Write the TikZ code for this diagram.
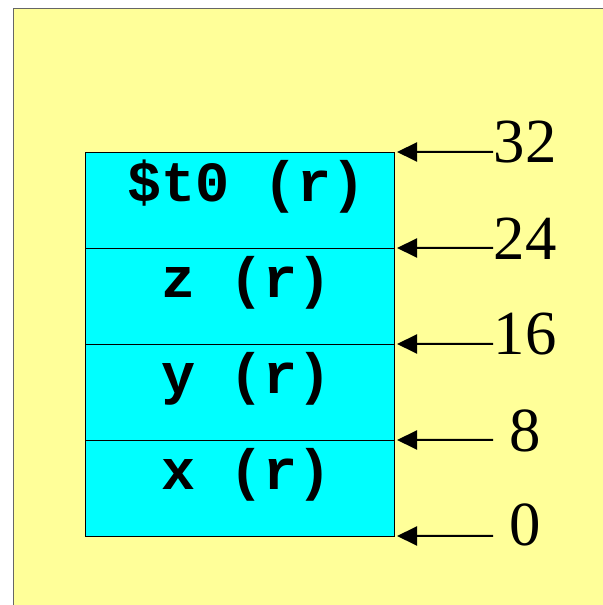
\documentclass[tikz,border=0pt]{standalone}
\usepackage{fontspec}
\setmainfont{Liberation Serif}
\newfontfamily\celdafont{Liberation Mono}[BoldFont={* Bold}]
\usetikzlibrary{arrows.meta}
\definecolor{fondo}{HTML}{FFFF99}
\definecolor{celeste}{HTML}{00FFFF}
\tikzset{
  celda/.style={draw=black, line width=0.8bp, fill=celeste, minimum width=309bp, minimum height=96bp, inner sep=0pt, outer sep=0pt},
  texto/.style={font=\celdafont\bfseries\fontsize{57}{64}\selectfont, inner sep=0pt},
  num/.style={font=\fontsize{63}{70}\selectfont, inner sep=0pt},
  flecha/.style={-{Triangle[length=20bp,width=19bp]}, line width=2bp}
}
\begin{document}
\begin{tikzpicture}[x=1bp, y=1bp]
            \useasboundingbox (0, 0) rectangle (603, 605);

            % Fondo amarillo con borde
            \fill[fondo] (13, -5) rectangle (610, 596);
            \draw[black!60, line width=1bp] (13, -5) -- (13, 596) -- (610, 596);

            % Celdas de la pila
            \node[celda] (cx) at (239.5, 117) {};
            \node[celda] (cy) at (239.5, 213) {};
            \node[celda] (cz) at (239.5, 309) {};
            \node[celda] (ct) at (239.5, 405) {};

            % Textos de las celdas
            \node[texto, anchor=base] (tx) at ([xshift=7bp, yshift=-50bp]cx.north) {x (r)};
            \node[texto, anchor=base] (ty) at ([xshift=7bp, yshift=-50bp]cy.north) {y (r)};
            \node[texto, anchor=base] (tz) at ([xshift=7bp, yshift=-50bp]cz.north) {z (r)};
            \node[texto, anchor=base] (tt) at ([xshift=7bp, yshift=-50bp]ct.north) {\$t0 (r)};

            % Desplazamientos
            \coordinate (d0) at (493, 69);
            \coordinate (d8) at (493, 165);
            \coordinate (d16) at (493, 261);
            \coordinate (d24) at (493, 357);
            \coordinate (d32) at (493, 453);

            \node[num, anchor=base] (n0) at ([xshift=32bp, yshift=-10bp]d0) {0};
            \node[num, anchor=base] (n8) at ([xshift=32bp, yshift=-12bp]d8) {8};
            \node[num, anchor=base] (n16) at ([xshift=32bp, yshift=-11bp]d16) {16};
            \node[num, anchor=base] (n24) at ([xshift=32bp, yshift=-12bp]d24) {24};
            \node[num, anchor=base] (n32) at ([xshift=32bp, yshift=-11bp]d32) {32};

            % Flechas hacia los bordes de las celdas
            \draw[flecha] (d0) -- ([xshift=3bp]cx.south east);
            \draw[flecha] (d8) -- ([xshift=3bp]cx.north east);
            \draw[flecha] (d16) -- ([xshift=3bp]cy.north east);
            \draw[flecha] (d24) -- ([xshift=3bp]cz.north east);
            \draw[flecha] (d32) -- ([xshift=3bp]ct.north east);
\end{tikzpicture}
\end{document}
